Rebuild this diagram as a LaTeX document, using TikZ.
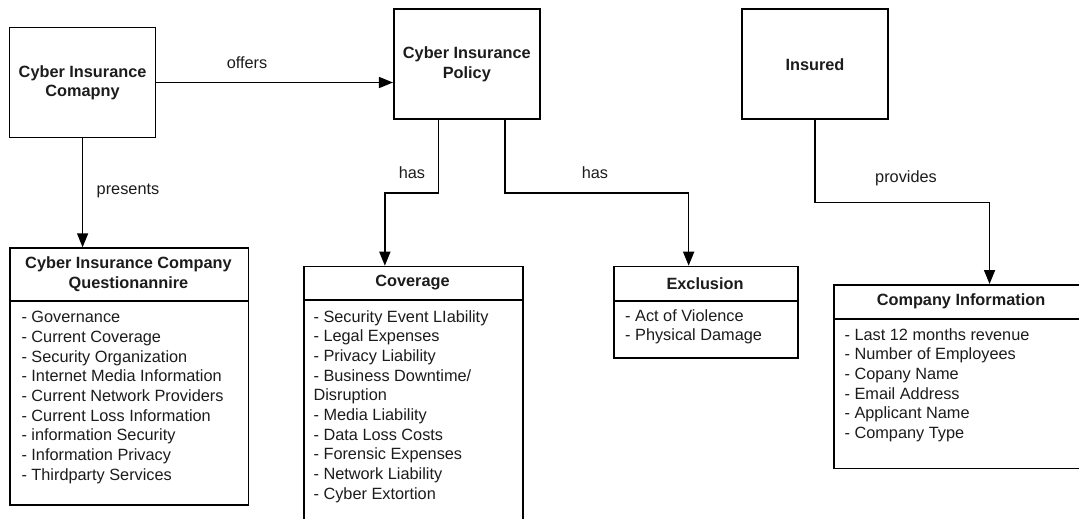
\documentclass[tikz,border=0pt]{standalone}
\usepackage{fontspec}
\setmainfont{Liberation Sans}
\usetikzlibrary{arrows.meta,calc}
\definecolor{txt}{HTML}{1C1C1C}
\begin{document}
\begin{tikzpicture}[x=1pt,y=-1pt,
  every node/.style={font=\fontsize{16.3}{19.7}\selectfont, text=txt},
  entity/.style={draw=black, line width=1.7pt, minimum width=146pt, minimum height=110pt,
    inner sep=0pt, font=\bfseries\fontsize{16.3}{19.2}\selectfont, align=center},
  listbox/.style={draw=black, line width=1.7pt, inner sep=0pt, anchor=north west},
  divider/.style={draw=black, line width=1.7pt},
  hdr/.style={inner sep=0pt, font=\bfseries\fontsize{16.3}{19.4}\selectfont, align=center},
  items/.style={inner sep=0pt, anchor=north west, align=left},
  conn/.style={draw=black, line width=1.6pt, -{Triangle[length=14pt,width=11pt]}},
  lbl/.style={inner sep=0pt}
]
\useasboundingbox (0,0) rectangle (1079,519);
\fill[white] (0,0) rectangle (1079,519);
\clip (0,0) rectangle (1079,519);

% top entities
\node[entity] (comp) at (82.6,82.5) {Cyber Insurance\\Comapny};
\node[entity] (pol) at (466.8,64.2) {Cyber Insurance\\Policy};
\node[entity] (ins) at (815,64.2) {Insured};

% questionnaire
\node[listbox, minimum width=238.3pt, minimum height=256.7pt] (q) at (9.3,247.3) {};
\draw[divider] (q.west |- 0,301) -- (q.east |- 0,301);
\node[hdr] (qh) at (128.5,274.2) {Cyber Insurance Company\\Questionannire};
\node[items] (ql) at (21.3,311.2) {- Governance\\- Current Coverage\\- Security Organization\\- Internet Media Information\\- Current Network Providers\\- Current Loss Information\\- information Security\\- Information Privacy\\- Thirdparty Services};

% coverage
\node[listbox, minimum width=219pt, minimum height=280pt] (cov) at (303,265.7) {};
\draw[divider] (cov.west |- 0,300.3) -- (cov.east |- 0,300.3);
\node[hdr] (covh) at (412.5,283) {Coverage};
\node[items] (covl) at (313.4,310) {- Security Event LIability\\- Legal Expenses\\- Privacy Liability\\- Business Downtime/\\Disruption\\- Media Liability\\- Data Loss Costs\\- Forensic Expenses\\- Network Liability\\- Cyber Extortion};

% exclusion
\node[listbox, minimum width=184pt, minimum height=91.6pt] (exc) at (613,265.7) {};
\draw[divider] (exc.west |- 0,300.7) -- (exc.east |- 0,300.7);
\node[hdr] (exch) at (705,283.2) {Exclusion};
\node[items] (excl) at (625,309.2) {- Act of Violence\\- Physical Damage};

% company information
\node[listbox, minimum width=256pt, minimum height=183.5pt] (ci) at (833,284) {};
\draw[divider] (ci.west |- 0,319) -- (ci.east |- 0,319);
\node[hdr] (cih) at (961,301.5) {Company Information};
\node[items] (cil) at (844.4,328) {- Last 12 months revenue\\- Number of Employees\\- Copany Name\\- Email Address\\- Applicant Name\\- Company Type};

% connectors
\draw[conn] (comp.east) -- (comp.east -| pol.west);
\draw[conn] (comp.south) -- (comp.south |- q.north);
\draw[conn] ([xshift=-28.4pt]pol.south) -- ++(0,73.1) -| ([xshift=-28.5pt]cov.north);
\draw[conn] ([xshift=38pt]pol.south) -- ++(0,73.1) -| ([xshift=-17.2pt]exc.north);
\draw[conn] (ins.south) -- ++(0,82.5) -| ([xshift=27.7pt]ci.north);

% labels
\node[lbl] (lo) at (247,62.7) {offers};
\node[lbl] (lp) at (128,190.7) {presents};
\node[lbl] (lh1) at (412,172.3) {has};
\node[lbl] (lh2) at (595,172.7) {has};
\node[lbl] (lpr) at (906,178.3) {provides};
\end{tikzpicture}
\end{document}
